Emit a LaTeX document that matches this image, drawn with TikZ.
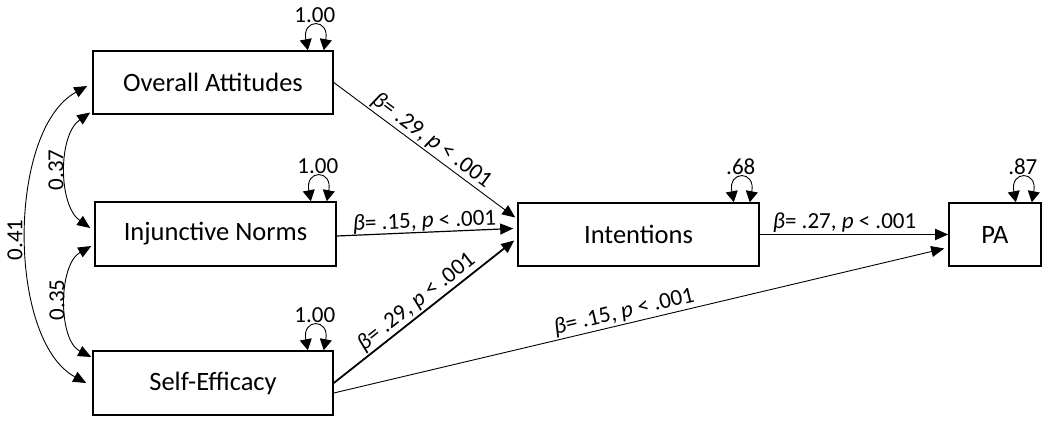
\documentclass[tikz,border=0pt]{standalone}
\usepackage{fontspec}
\setmainfont{Carlito}
\usetikzlibrary{arrows.meta}
\begin{document}
\begin{tikzpicture}[x=1pt,y=-1pt,
  box/.style={draw,line width=1.6pt,inner sep=0pt,font=\fontsize{26.5}{30}\selectfont},
  lab/.style={font=\fontsize{23}{26}\selectfont,inner sep=1.5pt},
  path/.style={line width=0.9pt,-{Triangle[length=13pt,width=11pt]}},
  thick path/.style={line width=1.8pt,-{Triangle[length=13pt,width=11pt]}},
  cov/.style={line width=0.9pt,{Triangle[length=13pt,width=11pt]}-{Triangle[length=13pt,width=11pt]}},
  loop/.style={line width=0.9pt,{Triangle[length=11pt,width=12pt]}-{Triangle[length=11pt,width=12pt]}}
]
\useasboundingbox (0,0) rectangle (1050,425);
\node[box,minimum width=240pt,minimum height=63pt] (OA) at (213,82.5) {Overall Attitudes};
\node[box,minimum width=241pt,minimum height=64pt] (IN) at (215.5,234) {Injunctive Norms};
\node[box,minimum width=240pt,minimum height=64pt] (SE) at (213,383) {Self-Efficacy};
\node[box,minimum width=241pt,minimum height=63pt] (INT) at (638.5,234.5) {Intentions};
\node[box,minimum width=92pt,minimum height=63pt] (PA) at (995,234.5) {PA};

% self loops
\foreach \n/\v in {OA/1.00,IN/1.00,SE/1.00,INT/.68,PA/.87}{
  \coordinate (\n-l) at ([xshift=-26pt]\n.north east);
  \coordinate (\n-r) at ([xshift=-10pt]\n.north east);
  \draw[loop] (\n-l) .. controls +(-6,-32) and +(6,-32) .. (\n-r);
  \node[lab] at ([xshift=-19pt,yshift=35pt]\n.north east) {\v};
}

% covariances
\coordinate (c41a) at ([xshift=-5pt,yshift=-3.5pt]OA.west);
\coordinate (c41b) at ([xshift=-6pt]SE.west);
\draw[cov] (c41a) .. controls (7,130) and (7,340) .. (c41b);
\node[lab,rotate=90] at (15,240) {0.41};
\coordinate (c37a) at ([xshift=-2pt,yshift=-30pt]OA.west);
\coordinate (c37b) at ([xshift=-4pt,yshift=6pt]IN.west);
\draw[cov] (c37a) .. controls (58,135) and (58,205) .. (c37b);
\node[lab,rotate=90] at (56,170) {0.37};
\coordinate (c35a) at ([xshift=-3pt,yshift=-12pt]IN.west);
\coordinate (c35b) at ([xshift=-1pt,yshift=26pt]SE.west);
\draw[cov] (c35a) .. controls (58,265) and (58,340) .. (c35b);
\node[lab,rotate=90] at (57,300) {0.35};

% paths
\draw[path] ([yshift=0pt]OA.east) -- node[lab,sloped,above] {\textit{β}= .29, \textit{p} < .001} ([xshift=-2pt,yshift=17pt]INT.west);
\draw[path,line width=1.2pt] ([yshift=-2pt]IN.east) -- node[lab,sloped,above,inner sep=0pt] {\textit{β}= .15, \textit{p} < .001} ([xshift=-4pt,yshift=6pt]INT.west);
\draw[thick path] ([yshift=0pt]SE.east) -- node[lab,sloped,above] {\textit{β}= .29, \textit{p} < .001} ([xshift=-3pt,yshift=-6pt]INT.west);
\draw[path] ([yshift=-10pt]SE.east) -- node[lab,sloped,above,pos=0.48] {\textit{β}= .15, \textit{p} < .001} ([xshift=-4pt,yshift=-14pt]PA.west);
\draw[thick path] (INT.east) -- node[lab,above,pos=0.45] {\textit{β}= .27, \textit{p} < .001} (PA.west);
\end{tikzpicture}
\end{document}
